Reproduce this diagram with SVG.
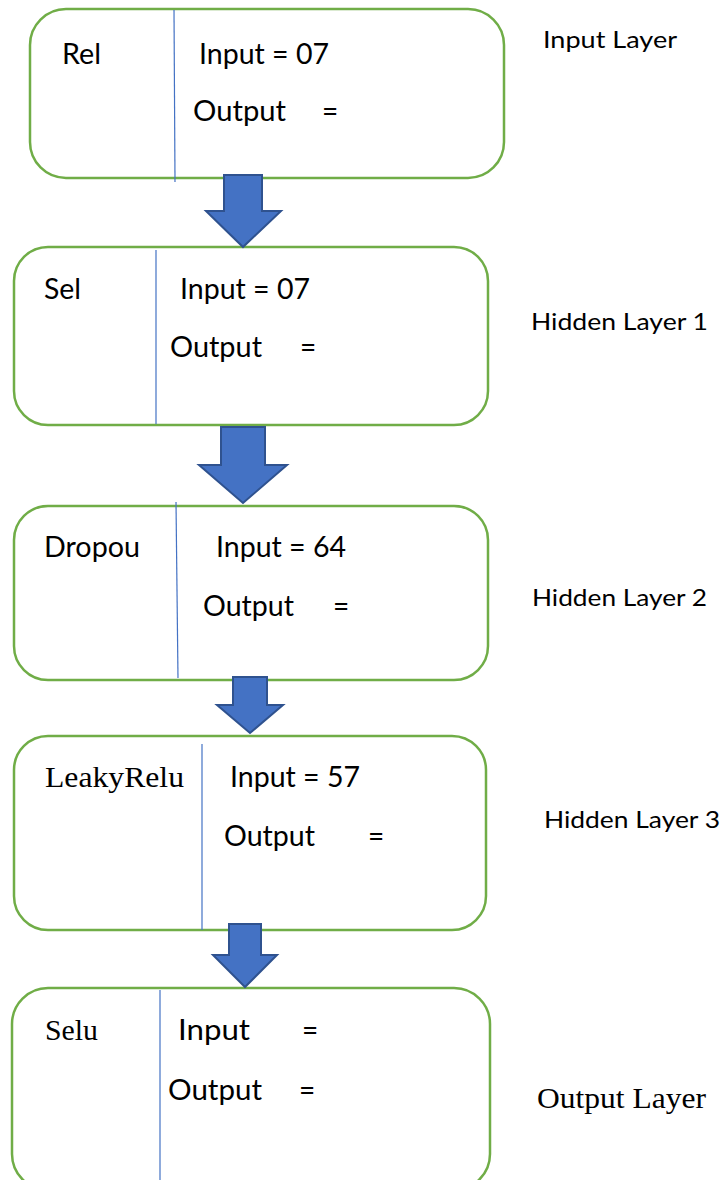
<svg xmlns="http://www.w3.org/2000/svg" width="724" height="1180" viewBox="0 0 724 1180">
  <style>
    .box { fill: #ffffff; stroke: #70AD47; stroke-width: 2.5; }
    .div { stroke: #4472C4; stroke-width: 1.2; fill: none; }
    .t { font-family: Lato, "Open Sans", sans-serif; font-size: 28px; fill: #000000; }
    .s { font-family: "Liberation Serif", "Times New Roman", serif; font-size: 30px; fill: #000000; }
    .lbl { font-family: Lato, "Open Sans", sans-serif; font-size: 24px; fill: #000000; }
    .lbls { font-family: "Liberation Serif", "Times New Roman", serif; font-size: 30px; fill: #000000; }
    .arrow { fill: #4472C4; stroke: #2F528F; stroke-width: 2; stroke-linejoin: miter; }
  </style>
  <rect width="724" height="1180" fill="#ffffff"/>

  <!-- Input layer -->
  <g id="node-rel">
    <rect class="box" x="30" y="9" width="474" height="169" rx="36" ry="36"/>
    <line class="div" x1="174" y1="10" x2="175" y2="182"/>
    <text class="t" x="62" y="64" textLength="39" lengthAdjust="spacingAndGlyphs">Rel</text>
    <text class="t" x="199" y="64" textLength="130" lengthAdjust="spacingAndGlyphs">Input = 07</text>
    <text class="t" x="193" y="121" textLength="93" lengthAdjust="spacingAndGlyphs">Output</text>
    <text class="t" x="322" y="121">=</text>
  </g>

  <!-- Hidden layer 1 -->
  <g id="node-sel">
    <rect class="box" x="14" y="247" width="474" height="178" rx="34" ry="34"/>
    <line class="div" x1="156" y1="250" x2="156" y2="424"/>
    <text class="t" x="44" y="299" textLength="37" lengthAdjust="spacingAndGlyphs">Sel</text>
    <text class="t" x="180" y="299" textLength="130" lengthAdjust="spacingAndGlyphs">Input = 07</text>
    <text class="t" x="170" y="357" textLength="92" lengthAdjust="spacingAndGlyphs">Output</text>
    <text class="t" x="300" y="357">=</text>
  </g>

  <!-- Hidden layer 2 -->
  <g id="node-dropout">
    <rect class="box" x="14" y="506" width="474" height="174" rx="34" ry="34"/>
    <line class="div" x1="176" y1="502" x2="178" y2="678"/>
    <text class="t" x="44" y="557" textLength="96" lengthAdjust="spacingAndGlyphs">Dropou</text>
    <text class="t" x="216" y="557" textLength="130" lengthAdjust="spacingAndGlyphs">Input = 64</text>
    <text class="t" x="203" y="616" textLength="91" lengthAdjust="spacingAndGlyphs">Output</text>
    <text class="t" x="333" y="616">=</text>
  </g>

  <!-- Hidden layer 3 -->
  <g id="node-leakyrelu">
    <rect class="box" x="14" y="736" width="472" height="194" rx="34" ry="34"/>
    <line class="div" x1="202" y1="744" x2="202" y2="930"/>
    <text class="s" x="45" y="787" textLength="139" lengthAdjust="spacingAndGlyphs">LeakyRelu</text>
    <text class="t" x="230" y="787" textLength="130" lengthAdjust="spacingAndGlyphs">Input = 57</text>
    <text class="t" x="224" y="846" textLength="91" lengthAdjust="spacingAndGlyphs">Output</text>
    <text class="t" x="368" y="846">=</text>
  </g>

  <!-- Output layer -->
  <g id="node-selu">
    <rect class="box" x="12" y="988" width="478" height="202" rx="36" ry="36"/>
    <line class="div" x1="160" y1="990" x2="160" y2="1180"/>
    <text class="s" x="45" y="1040" textLength="53" lengthAdjust="spacingAndGlyphs">Selu</text>
    <text class="t" x="178" y="1040" textLength="72" lengthAdjust="spacingAndGlyphs">Input</text>
    <text class="t" x="302" y="1040">=</text>
    <text class="t" x="168" y="1100" textLength="94" lengthAdjust="spacingAndGlyphs">Output</text>
    <text class="t" x="299" y="1100">=</text>
  </g>

  <!-- Layer captions -->
  <g id="labels">
    <text class="lbl" x="543" y="48" textLength="134" lengthAdjust="spacingAndGlyphs">Input Layer</text>
    <text class="lbl" x="531" y="330" textLength="177" lengthAdjust="spacingAndGlyphs">Hidden Layer 1</text>
    <text class="lbl" x="532" y="606" textLength="175" lengthAdjust="spacingAndGlyphs">Hidden Layer 2</text>
    <text class="lbl" x="544" y="828" textLength="176" lengthAdjust="spacingAndGlyphs">Hidden Layer 3</text>
    <text class="lbls" x="537" y="1108" textLength="169" lengthAdjust="spacingAndGlyphs">Output Layer</text>
  </g>

  <!-- Block arrows between layers -->
  <g id="connectors">
    <polygon class="arrow" points="224,175 262,175 262,211 281,211 243,247 206,211 224,211"/>
    <polygon class="arrow" points="221,427 265,427 265,465 287,465 243,503 199,465 221,465"/>
    <polygon class="arrow" points="233,677 267,677 267,705 283,705 250,733 217,705 233,705"/>
    <polygon class="arrow" points="229,924 261,924 261,955 277,955 245,987 213,955 229,955"/>
  </g>
</svg>
